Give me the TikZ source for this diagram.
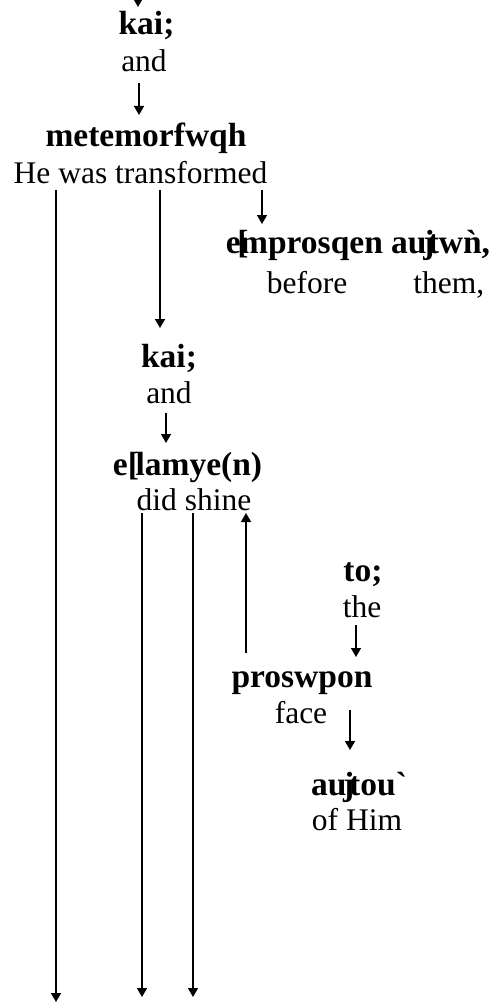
\documentclass[tikz,border=0pt]{standalone}
\usepackage{fontspec}
\setmainfont{Liberation Serif}
\usetikzlibrary{arrows.meta}
\tikzset{
  lbl/.style={inner sep=0pt, outer sep=0pt, anchor=base, text height=23pt, text depth=7pt},
  gk/.style={lbl, font=\fontsize{33.5}{40}\selectfont\bfseries},
  en/.style={lbl, font=\fontsize{31.5}{38}\selectfont},
  arr/.style={line width=1.5pt, -{Triangle[width=10pt,length=9pt]}},
}
\begin{document}
\begin{tikzpicture}[x=1pt,y=-1pt]
\useasboundingbox (0,0) rectangle (499,1003);
% text nodes
\node[gk] (k1) at (146.5,35) {kai;};
\node[en] (a1) at (144,72) {and};
\node[gk] (m) at (146,147) {metemorfwqh};
\node[en] (h) at (140.5,183) {He was transformed};
\node[gk] (e) at (358,253) {e\kern-0.1em[\kern-0.25em mprosqen au\kern-0.1em j\kern-0.2em twǹ,};
\node[en] (bt) at (375.5,293) {before\hspace{66pt}them,};
\node[gk] (k2) at (169,367) {kai;};
\node[en] (a2) at (169,403) {and};
\node[gk] (l) at (187.5,475) {e[\kern-0.1em lamye(n)};
\node[gk] (t) at (363,581) {to;};
\node[en] (d) at (194,510) {did shine};
\node[en] (th) at (362,617) {the};
\node[gk] (p) at (302,687) {proswpon};
\node[en] (f) at (301,723) {face};
\node[gk] (au) at (359,795) {au\kern-0.1em j\kern-0.15em tou\textasciigrave};
\node[en] (o) at (357,830) {of Him};
% free ends
\coordinate (top) at (138,-3);
\coordinate (b1) at (56,1002);
\coordinate (b2) at (142,997);
\coordinate (b3) at (193,997);
% connectors
\draw[arr] (top) -- ([xshift=-8.5pt,yshift=5pt]k1.north);
\draw[arr] ([xshift=-5pt,yshift=-4pt]a1.south) -- ([xshift=-7pt,yshift=9pt]m.north);
\draw[arr] ([xshift=-84.5pt]h.south) -- (b1);
\draw[arr] ([xshift=19.5pt]h.south) -- ([xshift=-9pt,yshift=16pt]k2.north);
\draw[arr] ([xshift=121.5pt]h.south) -- ([xshift=-96pt,yshift=6pt]e.north);
\draw[arr] ([xshift=-3pt,yshift=-3pt]a2.south) -- ([xshift=-21.5pt,yshift=9pt]l.north);
\draw[arr] ([xshift=-52pt,yshift=4pt]d.south) -- (b2);
\draw[arr] ([xshift=-1pt,yshift=4pt]d.south) -- (b3);
\draw[arr] ([xshift=-56pt,yshift=11pt]p.north) -- ([xshift=52pt,yshift=4pt]d.south);
\draw[arr] ([xshift=-6pt,yshift=-1pt]th.south) -- ([xshift=54pt,yshift=7pt]p.north);
\draw[arr] ([xshift=49pt,yshift=20pt]f.south) -- ([xshift=-9pt,yshift=22pt]au.north);
\end{tikzpicture}
\end{document}
